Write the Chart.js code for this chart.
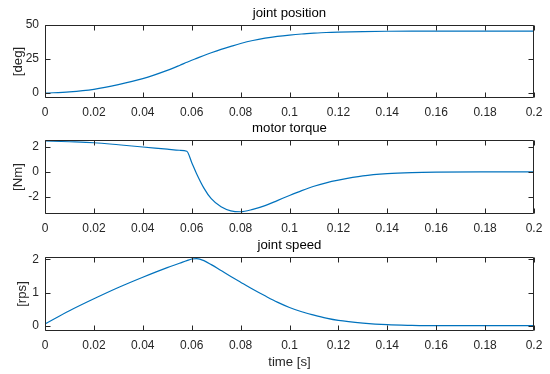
<!DOCTYPE html>
<html>
<head>
<meta charset="utf-8">
<script src="https://cdn.jsdelivr.net/npm/chart.js@4.4.1/dist/chart.umd.min.js"></script>
<style>
  html, body { margin: 0; padding: 0; background: #ffffff; }
  #wrap { position: relative; width: 550px; height: 374px; overflow: hidden; background: #fff; }
  #wrap canvas { position: absolute; left: 0; }
</style>
</head>
<body>
<div id="wrap">
  <canvas id="c1" width="550" height="118" style="top:0px"></canvas>
  <canvas id="c2" width="550" height="119" style="top:115px"></canvas>
  <canvas id="c3" width="550" height="142" style="top:232px"></canvas>
</div>
<script>
// ---- data ----
const time = [0, 0.01, 0.02, 0.03, 0.04, 0.05, 0.055, 0.058, 0.06, 0.062, 0.065, 0.068, 0.072, 0.076,
  0.08, 0.085, 0.09, 0.095, 0.1, 0.105, 0.11, 0.115, 0.12, 0.13, 0.14, 0.15, 0.16, 0.18, 0.2];
const jointPosition = [0, 0.9, 2.8, 6.2, 10.6, 16.7, 20.3, 22.6, 24.1, 25.5, 27.6, 29.6, 32.1, 34.3,
  36.4, 38.6, 40.3, 41.6, 42.6, 43.4, 44.0, 44.5, 44.8, 45.2, 45.4, 45.5, 45.5, 45.5, 45.5];
const motorTorque = [2.46, 2.40, 2.32, 2.16, 1.98, 1.81, 1.72, 1.64, 0.75, -0.15, -1.3, -2.15, -2.8, -3.12,
  -3.19, -3.0, -2.7, -2.3, -1.89, -1.5, -1.15, -0.88, -0.67, -0.33, -0.15, -0.06, -0.02, 0, 0];
const jointSpeed = [0.05, 0.45, 0.81, 1.15, 1.46, 1.75, 1.88, 1.96, 2.01, 2.02, 1.96, 1.84, 1.66, 1.48,
  1.31, 1.1, 0.9, 0.71, 0.55, 0.42, 0.32, 0.23, 0.16, 0.08, 0.03, 0.01, 0, 0, 0];

const xTicks = [0, 0.02, 0.04, 0.06, 0.08, 0.1, 0.12, 0.14, 0.16, 0.18, 0.2];
const xTickLabels = ['0', '0.02', '0.04', '0.06', '0.08', '0.1', '0.12', '0.14', '0.16', '0.18', '0.2'];
const posTicks = [0, 25, 50];
const torqueTicks = [-2, 0, 2];
const speedTicks = [0, 1, 2];
const titles = ['joint position', 'motor torque', 'joint speed'];
const yLabels = ['[deg]', '[Nm]', '[rps]'];
const xLabel = 'time [s]';

// ---- style ----
const FONT = '"Liberation Sans", Arial, Helvetica, sans-serif';
const AX = '#262626';
const LINE = '#0072BD';

const boxTicks = {
  id: 'boxTicks',
  afterDraw(chart) {
    const { ctx, chartArea: a, scales } = chart;
    const xs = scales.x, ys = scales.y;
    const L = Math.round(a.left) + 0.5, R = Math.round(a.right) - 0.5;
    const T = Math.round(a.top) + 0.5, B = Math.round(a.bottom) - 0.5;
    const tl = 5;
    ctx.save();
    ctx.strokeStyle = AX;
    ctx.lineWidth = 1;
    ctx.beginPath();
    ctx.rect(L, T, R - L, B - T);
    xs.ticks.forEach(t => {
      const p = Math.round(xs.getPixelForValue(t.value)) + 0.5;
      ctx.moveTo(p, B); ctx.lineTo(p, B - tl);
      ctx.moveTo(p, T); ctx.lineTo(p, T + tl);
    });
    ys.ticks.forEach(t => {
      const p = Math.round(ys.getPixelForValue(t.value)) + 0.5;
      ctx.moveTo(L, p); ctx.lineTo(L + tl, p);
      ctx.moveTo(R, p); ctx.lineTo(R - tl, p);
    });
    ctx.stroke();
    ctx.restore();
  }
};

function makeChart(id, title, yLabel, values, yMin, yMax, yTicks, yTitlePad, showXTitle, xAxisHeight) {
  return new Chart(document.getElementById(id), {
    type: 'line',
    data: {
      datasets: [{
        data: time.map((t, i) => ({ x: t, y: values[i] })),
        borderColor: LINE,
        borderWidth: 1.2,
        pointRadius: 0,
        cubicInterpolationMode: 'monotone',
        fill: false
      }]
    },
    options: {
      responsive: false,
      animation: false,
      devicePixelRatio: 1,
      layout: { padding: { left: 0, right: 16, top: 0, bottom: 0 } },
      plugins: {
        legend: { display: false },
        tooltip: { enabled: false },
        title: {
          display: true,
          text: title,
          fullSize: false,
          color: '#000000',
          font: { family: FONT, size: 13.2, weight: 'normal', lineHeight: 16 / 13.2 },
          padding: { top: 5, bottom: 4 }
        }
      },
      scales: {
        x: {
          type: 'linear',
          min: 0, max: 0.2,
          grid: { display: false, drawTicks: false },
          border: { display: false },
          afterBuildTicks: s => { s.ticks = xTicks.map(v => ({ value: v })); },
          afterFit: s => { s.height = xAxisHeight; },
          ticks: {
            autoSkip: false, maxRotation: 0, minRotation: 0,
            color: AX, padding: 7,
            font: { family: FONT, size: 12 },
            callback: (v, i) => xTickLabels[i]
          },
          title: {
            display: showXTitle,
            text: xLabel,
            color: AX,
            font: { family: FONT, size: 13.2 },
            padding: { top: 0, bottom: 4 }
          }
        },
        y: {
          type: 'linear',
          min: yMin, max: yMax,
          grid: { display: false, drawTicks: false },
          border: { display: false },
          afterBuildTicks: s => { s.ticks = yTicks.map(v => ({ value: v })); },
          afterFit: s => { s.width = 45; },
          ticks: {
            color: AX, padding: 6,
            font: { family: FONT, size: 12 },
            callback: v => String(v)
          },
          title: {
            display: true,
            text: yLabel,
            color: AX,
            font: { family: FONT, size: 13.2 },
            padding: { top: yTitlePad, bottom: 0 }
          }
        }
      }
    },
    plugins: [boxTicks]
  });
}

makeChart('c1', titles[0], yLabels[0], jointPosition, -3.6, 50, posTicks, 10, false, 20);
makeChart('c2', titles[1], yLabels[1], motorTorque, -3.37, 2.54, torqueTicks, 10, false, 20);
makeChart('c3', titles[2], yLabels[2], jointSpeed, -0.16, 2.07, speedTicks, 14.6, true, 43);
</script>
</body>
</html>
